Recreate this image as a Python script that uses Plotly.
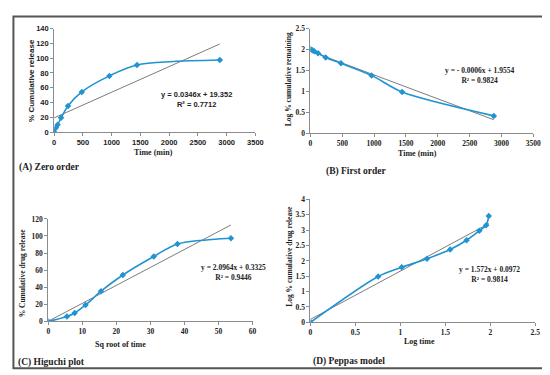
import numpy as np
import plotly.graph_objects as go

W, H = 550, 375

# ---- data ----
zero_time = [0, 30, 60, 120, 240, 480, 960, 1440, 2880]
zero_release = [0, 5.7, 9.8, 19.2, 35.3, 54.3, 76.0, 90.7, 97.4]

first_time = [0, 30, 60, 120, 240, 480, 960, 1440, 2880]
first_log_remaining = [2.01, 1.98, 1.96, 1.91, 1.81, 1.67, 1.38, 0.98, 0.41]

higuchi_sqrt_time = [0, 5.48, 7.75, 10.95, 15.49, 21.9, 30.98, 37.95, 53.67]
higuchi_release = [0, 5.7, 9.8, 19.2, 35.3, 54.3, 76.0, 90.7, 97.4]

peppas_log_time = [0, 0.753, 1.015, 1.296, 1.554, 1.736, 1.878, 1.954, 1.983]
peppas_log_release = [0, 1.49, 1.79, 2.07, 2.37, 2.67, 2.98, 3.16, 3.46]

eq_texts = {
    "A": "y = 0.0346x + 19.352<br>R² = 0.7712",
    "B": "y = - 0.0006x + 1.9554<br>R² = 0.9824",
    "C": "y = 2.0964x + 0.3325<br>R² = 0.9446",
    "D": "y = 1.572x + 0.0972<br>R² = 0.9814",
}

BLUE = "#2193d3"
TREND = "#5a5a5a"
AXC = "#8c8c8c"
SERIF = "Liberation Serif"
SANS = "Liberation Sans"


def px_x(p):
    return p / W


def px_y(p):
    return 1 - p / H


fig = go.Figure()

panels = [
    ("A", zero_time, zero_release, "x", "y", (45, 250), (17, 123), (0, 3500), 500, (0, 140), 20, SANS, 7.5),
    ("B", first_time, first_log_remaining, "x2", "y2", (306, 533), (17, 124), (0, 3500), 500, (0, 2.5), 0.5, SERIF, 7.5),
    ("C", higuchi_sqrt_time, higuchi_release, "x3", "y3", (39, 247), (212, 317), (0, 60), 10, (0, 120), 20, SERIF, 7.5),
    ("D", peppas_log_time, peppas_log_release, "x4", "y4", (306, 535), (192, 318), (0, 2.5), 0.5, (0, 4), 0.5, SERIF, 7.5),
]

layout_axes = {}
for i, (key, xs, ys, xa, ya, xd, yd, xr, dx, yr, dy, tf, ts) in enumerate(panels):
    n = "" if i == 0 else str(i + 1)
    # trend line from least squares on the data
    m, b = np.polyfit(xs, ys, 1)
    tx = np.array([min(xs), max(xs)])
    fig.add_trace(go.Scatter(x=tx, y=m * tx + b, mode="lines",
                             line=dict(color=TREND, width=0.8),
                             xaxis=xa, yaxis=ya, showlegend=False, hoverinfo="skip"))
    fig.add_trace(go.Scatter(x=xs, y=ys, mode="lines+markers",
                             line=dict(color=BLUE, width=1.6, shape="spline", smoothing=0.8),
                             marker=dict(symbol="diamond", size=5, color=BLUE),
                             xaxis=xa, yaxis=ya, showlegend=False))
    tickfont = dict(family=tf, size=ts, color="#222", weight="bold")
    layout_axes["xaxis" + n] = dict(
        domain=[px_x(xd[0]), px_x(xd[1])], range=list(xr), dtick=dx, tick0=0,
        anchor=ya, showline=True, linecolor=AXC, linewidth=1, ticks="outside",
        ticklen=3, tickcolor=AXC, showgrid=False, zeroline=False, tickfont=tickfont,
        fixedrange=True)
    layout_axes["yaxis" + n] = dict(
        domain=[px_y(yd[1]), px_y(yd[0])], range=list(yr), dtick=dy, tick0=0,
        anchor=xa, showline=True, linecolor=AXC, linewidth=1, ticks="outside",
        ticklen=3, tickcolor=AXC, showgrid=False, zeroline=False, tickfont=tickfont,
        fixedrange=True)

annotations = []


def ann(text, x, y, size=8, family=SERIF, angle=0, xanchor="center", color="#222"):
    annotations.append(dict(text=text, x=px_x(x), y=px_y(y), xref="paper", yref="paper",
                            showarrow=False, textangle=angle, xanchor=xanchor, yanchor="middle",
                            font=dict(family=family, size=size, color=color, weight="bold")))


# axis titles
ann("Time (min)", 146, 144, 8, SERIF)
ann("% Cumulative release", 22, 70, 8, SANS, angle=-90)
ann("Time (min)", 415, 145, 8, SERIF)
ann("Log % cumulative remaining", 284, 69, 7.5, SERIF, angle=-90)
ann("Sq root of time", 113, 341, 8, SERIF)
ann("% Cumulative drug release", 13, 267, 7.5, SERIF, angle=-90)
ann("Log time", 417, 338, 8, SERIF)
ann("Log % cumulative drug release", 284, 250, 7.5, SERIF, angle=-90)

# equations
ann(eq_texts["A"], 190, 90, 7.5, SANS)
ann(eq_texts["B"], 478, 65, 7.5, SERIF)
ann(eq_texts["C"], 228, 267, 7.5, SERIF)
ann(eq_texts["D"], 488, 269, 7.5, SERIF)

# panel labels
ann("(A) Zero order", 7, 159, 9.5, SERIF, xanchor="left")
ann("(B) First order", 320, 163, 9.5, SERIF, xanchor="left")
ann("(C) Higuchi plot", 6, 359, 9.5, SERIF, xanchor="left")
ann("(D) Peppas model", 307, 358, 9.5, SERIF, xanchor="left")

fig.update_layout(
    width=W, height=H, margin=dict(l=0, r=0, t=0, b=0),
    paper_bgcolor="white", plot_bgcolor="white",
    annotations=annotations,
    shapes=[dict(type="rect", xref="paper", yref="paper",
                 x0=px_x(3.5), x1=px_x(546.5), y0=px_y(365), y1=px_y(4.5),
                 line=dict(color="#555555", width=2))],
    **layout_axes,
)

fig.write_html("out.html")
